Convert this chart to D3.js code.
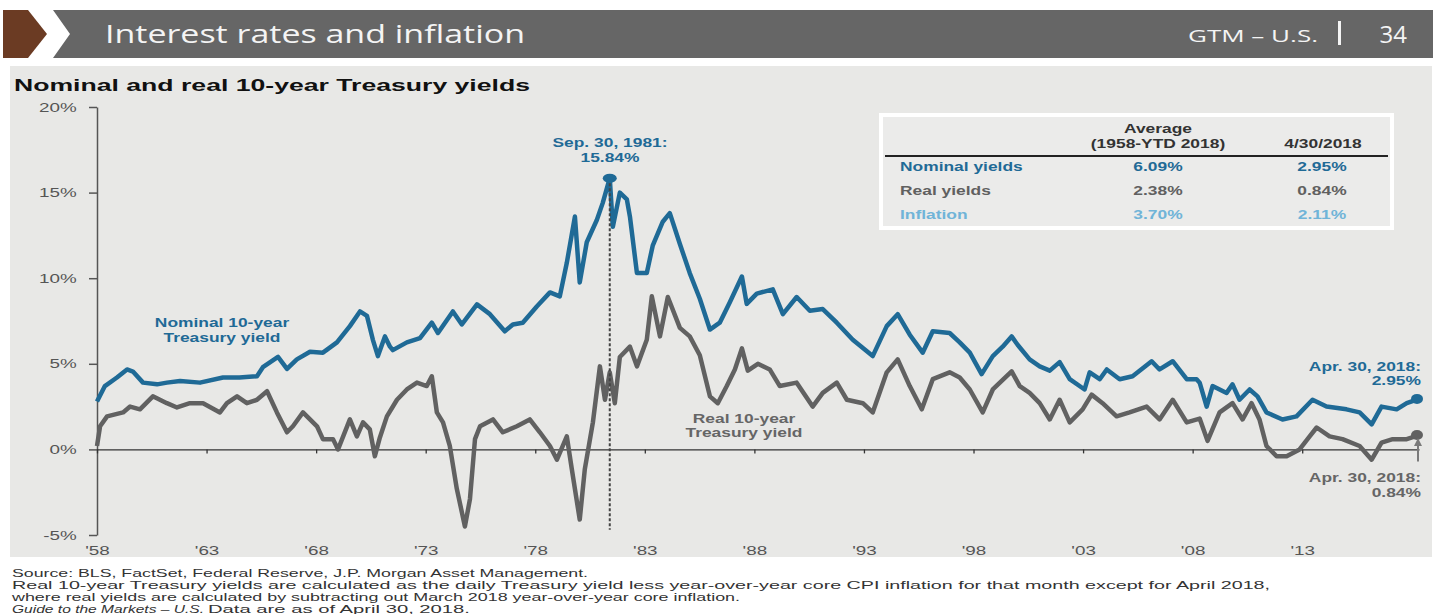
<!DOCTYPE html>
<html>
<head>
<meta charset="utf-8">
<script src="https://cdn.jsdelivr.net/npm/d3@7"></script>
<style>
  html, body { margin: 0; padding: 0; background: #fff; }
  svg { display: block; }
</style>
</head>
<body>
<svg id="chart" width="1441" height="614"></svg>
<script>
// nominal 10-year Treasury yield, [year, %]
var nominal = [
  [1958.00, 2.8], [1958.36, 3.7], [1958.91, 4.2], [1959.37, 4.67], [1959.64, 4.55], [1960.10, 3.9],
  [1960.74, 3.8], [1961.19, 3.9], [1961.79, 4.0], [1962.70, 3.9], [1963.75, 4.2], [1964.50, 4.2],
  [1965.30, 4.27], [1965.57, 4.8], [1966.26, 5.4], [1966.67, 4.7], [1967.12, 5.26], [1967.72, 5.7],
  [1968.31, 5.65], [1968.95, 6.25], [1969.54, 7.2], [1970.00, 8.06], [1970.32, 7.8], [1970.59, 6.4],
  [1970.82, 5.45], [1971.14, 6.6], [1971.37, 6.0], [1971.50, 5.8], [1972.14, 6.25], [1972.74, 6.5],
  [1973.28, 7.4], [1973.56, 6.8], [1974.24, 8.06], [1974.65, 7.3], [1975.34, 8.47], [1975.93, 7.9],
  [1976.61, 6.9], [1976.98, 7.3], [1977.43, 7.4], [1978.07, 8.35], [1978.67, 9.17], [1979.12, 8.94],
  [1979.44, 10.9], [1979.81, 13.6], [1980.03, 9.75], [1980.35, 12.1], [1980.81, 13.4], [1981.08, 14.4],
  [1981.40, 15.84], [1981.54, 13.0], [1981.86, 15.0], [1982.18, 14.6], [1982.32, 13.6], [1982.64, 10.3],
  [1983.09, 10.3], [1983.36, 11.9], [1983.82, 13.3], [1984.14, 13.8], [1984.60, 12.0], [1985.05, 10.3],
  [1985.51, 8.8], [1985.97, 7.0], [1986.42, 7.4], [1986.88, 8.6], [1987.43, 10.1], [1987.65, 8.5],
  [1988.11, 9.1], [1988.84, 9.35], [1989.30, 7.9], [1989.93, 8.9], [1990.53, 8.1], [1991.12, 8.2],
  [1991.76, 7.4], [1992.49, 6.4], [1993.40, 5.45], [1994.04, 7.2], [1994.54, 7.9], [1995.09, 6.7],
  [1995.68, 5.65], [1996.14, 6.9], [1996.91, 6.8], [1997.37, 6.25], [1997.83, 5.65], [1998.37, 4.4],
  [1998.88, 5.45], [1999.33, 6.0], [1999.74, 6.6], [2000.02, 6.1], [2000.56, 5.26], [2001.02, 4.85],
  [2001.48, 4.6], [2001.93, 5.1], [2002.39, 4.1], [2003.07, 3.5], [2003.30, 4.5], [2003.76, 4.1],
  [2004.08, 4.67], [2004.67, 4.1], [2005.26, 4.27], [2006.13, 5.15], [2006.49, 4.67], [2007.09, 5.15],
  [2007.73, 4.1], [2008.18, 4.1], [2008.32, 3.9], [2008.64, 2.5], [2008.91, 3.7], [2009.55, 3.3],
  [2009.82, 3.8], [2010.14, 2.9], [2010.60, 3.5], [2010.96, 3.1], [2011.37, 2.16], [2012.10, 1.75],
  [2012.74, 1.93], [2013.47, 2.9], [2014.11, 2.5], [2015.02, 2.34], [2015.62, 2.16], [2016.17, 1.46],
  [2016.62, 2.5], [2017.31, 2.34], [2017.77, 2.7], [2018.33, 2.95]
];

// real 10-year Treasury yield, [year, %]
var real = [
  [1958.00, 0.2], [1958.14, 1.35], [1958.46, 1.93], [1959.19, 2.16], [1959.51, 2.5], [1959.96, 2.34],
  [1960.55, 3.1], [1961.19, 2.7], [1961.65, 2.45], [1962.24, 2.7], [1962.84, 2.7], [1963.61, 2.16],
  [1963.93, 2.7], [1964.39, 3.1], [1964.84, 2.7], [1965.30, 2.9], [1965.76, 3.4], [1966.21, 2.16],
  [1966.67, 1.0], [1966.94, 1.35], [1967.40, 2.16], [1968.04, 1.35], [1968.31, 0.6], [1968.77, 0.6],
  [1969.00, 0.0], [1969.54, 1.75], [1969.86, 0.76], [1970.14, 1.58], [1970.45, 1.17], [1970.68, -0.4],
  [1970.91, 0.7], [1971.23, 1.93], [1971.69, 2.9], [1972.14, 3.5], [1972.60, 3.9], [1973.05, 3.7],
  [1973.28, 4.27], [1973.51, 2.16], [1973.79, 1.58], [1974.10, 0.2], [1974.42, -2.3], [1974.79, -4.5],
  [1975.02, -2.9], [1975.25, 0.6], [1975.48, 1.35], [1976.07, 1.75], [1976.52, 1.0], [1977.16, 1.35],
  [1977.75, 1.75], [1978.21, 1.0], [1978.67, 0.2], [1978.99, -0.6], [1979.44, 0.76], [1979.67, -1.17],
  [1980.03, -4.1], [1980.26, -1.17], [1980.63, 1.58], [1980.95, 4.85], [1981.18, 2.9], [1981.40, 4.5],
  [1981.63, 2.7], [1981.86, 5.4], [1982.32, 6.0], [1982.64, 4.85], [1983.09, 6.4], [1983.32, 8.94],
  [1983.69, 6.6], [1984.05, 8.9], [1984.60, 7.1], [1985.05, 6.6], [1985.51, 5.5], [1985.97, 3.1],
  [1986.33, 2.7], [1986.74, 3.7], [1987.11, 4.67], [1987.43, 5.9], [1987.70, 4.6], [1988.16, 5.0],
  [1988.70, 4.67], [1989.16, 3.7], [1989.93, 3.9], [1990.66, 2.5], [1991.12, 3.3], [1991.76, 3.9],
  [1992.22, 2.9], [1992.95, 2.7], [1993.40, 2.16], [1994.04, 4.5], [1994.54, 5.26], [1995.09, 3.7],
  [1995.64, 2.34], [1996.14, 4.1], [1996.91, 4.5], [1997.37, 4.2], [1997.83, 3.5], [1998.42, 2.16],
  [1998.88, 3.5], [1999.74, 4.56], [2000.11, 3.7], [2000.56, 3.3], [2001.02, 2.7], [2001.48, 1.75],
  [2001.93, 2.9], [2002.39, 1.58], [2002.98, 2.34], [2003.39, 3.2], [2003.89, 2.7], [2004.53, 1.93],
  [2005.12, 2.16], [2005.90, 2.5], [2006.49, 1.75], [2007.09, 2.9], [2007.73, 1.58], [2008.32, 1.8],
  [2008.68, 0.5], [2009.23, 2.16], [2009.82, 2.7], [2010.28, 1.75], [2010.69, 2.7], [2011.05, 1.75],
  [2011.37, 0.2], [2011.83, -0.4], [2012.29, -0.4], [2012.88, 0.0], [2013.34, 0.76], [2013.66, 1.28],
  [2014.25, 0.76], [2014.84, 0.6], [2015.62, 0.2], [2016.17, -0.6], [2016.62, 0.4], [2017.13, 0.6],
  [2017.77, 0.6], [2018.33, 0.84]
];

var xTicks = [1958, 1963, 1968, 1973, 1978, 1983, 1988, 1993, 1998, 2003, 2008, 2013];
var yTicks = [-5, 0, 5, 10, 15, 20];

var peak = [1981.40, 15.84];

var tableRows = ["Nominal yields", "Real yields", "Inflation"];
var tableAverage = ["6.09%", "2.38%", "3.70%"];
var tableLatest = ["2.95%", "0.84%", "2.11%"];

var footnotes = [
  "Source: BLS, FactSet, Federal Reserve, J.P. Morgan Asset Management.",
  "Real 10-year Treasury yields are calculated as the daily Treasury yield less year-over-year core CPI inflation for that month except for April 2018,",
  "where real yields are calculated by subtracting out March 2018 year-over-year core inflation."
];

var BLUE = '#1f6a96';
var GREY = '#616161';
var LIGHTBLUE = '#70b4d8';
var SX = 1.45; // the source picture is stretched sideways, so is the text
var arial = "'Liberation Sans', Arial, sans-serif";
var opensans = "'Open Sans', 'Noto Sans', sans-serif";

var svg = d3.select('#chart');

function label(g, x, y, str, size, weight, color, anchor) {
    return g.append('text')
        .attr('transform', 'translate(' + x + ',' + y + ') scale(' + SX + ',1)')
        .attr('text-anchor', anchor || 'start')
        .attr('font-family', arial)
        .attr('font-size', size)
        .attr('font-weight', weight || 'normal')
        .attr('fill', color)
        .text(str);
}

// ---- header banner
svg.append('polygon')
    .attr('points', '3,10 28,10 47,34 28,58 3,58')
    .attr('fill', '#6b3b23');
svg.append('polygon')
    .attr('points', '53,10 1433,10 1433,58 53,58 70,34')
    .attr('fill', '#666666');
svg.append('text')
    .attr('x', 105).attr('y', 43)
    .attr('font-family', opensans).attr('font-size', 25)
    .attr('fill', '#f4f4f4')
    .attr('textLength', 420).attr('lengthAdjust', 'spacingAndGlyphs')
    .text('Interest rates and inflation');
svg.append('text')
    .attr('x', 1188).attr('y', 42)
    .attr('font-family', opensans).attr('font-size', 17)
    .attr('fill', '#f4f4f4')
    .attr('textLength', 130).attr('lengthAdjust', 'spacingAndGlyphs')
    .text('GTM – U.S.');
svg.append('rect')
    .attr('x', 1338).attr('y', 21).attr('width', 3).attr('height', 24)
    .attr('fill', '#f4f4f4');
svg.append('text')
    .attr('x', 1407).attr('y', 43)
    .attr('text-anchor', 'end')
    .attr('font-family', opensans).attr('font-size', 24)
    .attr('fill', '#f4f4f4')
    .text('34');

// ---- chart panel
svg.append('rect')
    .attr('x', 10).attr('y', 66).attr('width', 1422).attr('height', 491)
    .attr('fill', '#e8e8e6');
svg.append('text')
    .attr('x', 14).attr('y', 91)
    .attr('font-family', arial).attr('font-size', 17).attr('font-weight', 'bold')
    .attr('fill', '#111')
    .attr('textLength', 516).attr('lengthAdjust', 'spacingAndGlyphs')
    .text('Nominal and real 10-year Treasury yields');

var x = d3.scaleLinear().domain([1958, 2018.33]).range([97, 1419]);
var y = d3.scaleLinear().domain([-5, 20]).range([535, 107]);

// y axis
var yAxisG = svg.append('g')
    .attr('transform', 'translate(' + x(1958) + ',0)')
    .call(d3.axisLeft(y).tickValues(yTicks).tickSize(8).tickSizeOuter(0).tickPadding(6)
        .tickFormat(function (d) { return d + '%'; }));
yAxisG.select('.domain').attr('stroke', '#555').attr('stroke-width', 1.5);
yAxisG.selectAll('.tick line').attr('stroke', '#555').attr('stroke-width', 1.5);
yAxisG.selectAll('.tick text')
    .attr('fill', '#555').attr('font-family', arial).attr('font-size', 13)
    .attr('transform', 'scale(' + SX + ',1)');

// zero line with small year ticks
var zeroG = svg.append('g')
    .attr('transform', 'translate(0,' + y(0) + ')')
    .call(d3.axisBottom(x).tickValues(xTicks).tickSize(4).tickSizeOuter(0).tickFormat(''));
zeroG.select('.domain').attr('stroke', '#333').attr('stroke-width', 1.3);
zeroG.selectAll('.tick line').attr('stroke', '#333').attr('stroke-width', 1.3);

// year labels along the bottom
var xLabG = svg.append('g')
    .attr('transform', 'translate(0,' + (y(-5) + 2) + ')')
    .call(d3.axisBottom(x).tickValues(xTicks).tickSize(0).tickPadding(9)
        .tickFormat(function (d) { return "'" + String(d).slice(2); }));
xLabG.select('.domain').remove();
xLabG.selectAll('.tick text')
    .attr('fill', '#555').attr('font-family', arial).attr('font-size', 13)
    .attr('transform', 'scale(' + SX + ',1)');

// ---- series
var line = d3.line()
    .x(function (d) { return x(d[0]); })
    .y(function (d) { return y(d[1]); });

svg.append('path')
    .datum(real)
    .attr('d', line)
    .attr('fill', 'none')
    .attr('stroke', GREY)
    .attr('stroke-width', 4.5)
    .attr('stroke-linejoin', 'round');

svg.append('path')
    .datum(nominal)
    .attr('d', line)
    .attr('fill', 'none')
    .attr('stroke', BLUE)
    .attr('stroke-width', 4.5)
    .attr('stroke-linejoin', 'round');

// peak marker and dotted drop line
svg.append('line')
    .attr('x1', x(peak[0])).attr('x2', x(peak[0]))
    .attr('y1', y(peak[1])).attr('y2', y(-4.7))
    .attr('stroke', '#444').attr('stroke-width', 2)
    .attr('stroke-dasharray', '3,2');
svg.append('ellipse')
    .attr('cx', x(peak[0])).attr('cy', y(peak[1]))
    .attr('rx', 7).attr('ry', 4.5)
    .attr('fill', BLUE);

// end dots
var lastNom = nominal[nominal.length - 1];
var lastReal = real[real.length - 1];
svg.append('ellipse')
    .attr('cx', x(lastNom[0]) - 2).attr('cy', y(lastNom[1]))
    .attr('rx', 6).attr('ry', 5).attr('fill', BLUE);
svg.append('ellipse')
    .attr('cx', x(lastReal[0]) - 2).attr('cy', y(lastReal[1]))
    .attr('rx', 6).attr('ry', 5).attr('fill', GREY);

// arrow pointing up at the real yield end point
var ax = x(lastReal[0]) - 1;
svg.append('line')
    .attr('x1', ax).attr('x2', ax)
    .attr('y1', y(-0.7)).attr('y2', y(0.25))
    .attr('stroke', '#7a7a7a').attr('stroke-width', 2);
svg.append('polygon')
    .attr('points', [[ax - 4, y(0.25) + 1], [ax + 4, y(0.25) + 1], [ax, y(0.25) - 7]].join(' '))
    .attr('fill', '#7a7a7a');

// ---- annotations
var ann = svg.append('g');
label(ann, 610, 147, 'Sep. 30, 1981:', 12, 'bold', BLUE, 'middle');
label(ann, 610, 162, '15.84%', 12, 'bold', BLUE, 'middle');
label(ann, 222, 327, 'Nominal 10-year', 12, 'bold', BLUE, 'middle');
label(ann, 222, 342, 'Treasury yield', 12, 'bold', BLUE, 'middle');
label(ann, 744, 423, 'Real 10-year', 12, 'bold', '#666', 'middle');
label(ann, 744, 437, 'Treasury yield', 12, 'bold', '#666', 'middle');
label(ann, 1421, 371, 'Apr. 30, 2018:', 12, 'bold', BLUE, 'end');
label(ann, 1421, 385, '2.95%', 12, 'bold', BLUE, 'end');
label(ann, 1421, 482, 'Apr. 30, 2018:', 12, 'bold', '#666', 'end');
label(ann, 1421, 497, '0.84%', 12, 'bold', '#666', 'end');

// ---- summary table
var tbl = svg.append('g');
tbl.append('rect')
    .attr('x', 881).attr('y', 115).attr('width', 511).attr('height', 113)
    .attr('fill', '#ebebea').attr('stroke', '#fff').attr('stroke-width', 4);
tbl.append('line')
    .attr('x1', 885).attr('x2', 1388).attr('y1', 156).attr('y2', 156)
    .attr('stroke', '#222').attr('stroke-width', 2);
label(tbl, 1158, 133, 'Average', 12, 'bold', '#333', 'middle');
label(tbl, 1158, 148, '(1958-YTD 2018)', 12, 'bold', '#333', 'middle');
label(tbl, 1323, 148, '4/30/2018', 12, 'bold', '#333', 'middle');

var rowColors = [BLUE, '#606060', LIGHTBLUE];
tableRows.forEach(function (name, i) {
    var ry = 171 + i * 24;
    label(tbl, 900, ry, name, 12, 'bold', rowColors[i], 'start');
    label(tbl, 1158, ry, tableAverage[i], 12, 'bold', rowColors[i], 'middle');
    label(tbl, 1322, ry, tableLatest[i], 12, 'bold', rowColors[i], 'middle');
});

// ---- footnotes
var noteWidths = [576, 1258, 728];
footnotes.forEach(function (s, i) {
    svg.append('text')
        .attr('x', 12).attr('y', 577 + i * 12)
        .attr('font-family', arial).attr('font-size', 11)
        .attr('fill', '#333')
        .attr('textLength', noteWidths[i]).attr('lengthAdjust', 'spacingAndGlyphs')
        .text(s);
});
svg.append('text')
    .attr('x', 12).attr('y', 613)
    .attr('font-family', arial).attr('font-size', 11).attr('font-style', 'italic')
    .attr('fill', '#333')
    .attr('textLength', 192).attr('lengthAdjust', 'spacingAndGlyphs')
    .text('Guide to the Markets – U.S.');
svg.append('text')
    .attr('x', 208).attr('y', 613)
    .attr('font-family', arial).attr('font-size', 11)
    .attr('fill', '#333')
    .attr('textLength', 262).attr('lengthAdjust', 'spacingAndGlyphs')
    .text('Data are as of April 30, 2018.');
</script>
</body>
</html>
